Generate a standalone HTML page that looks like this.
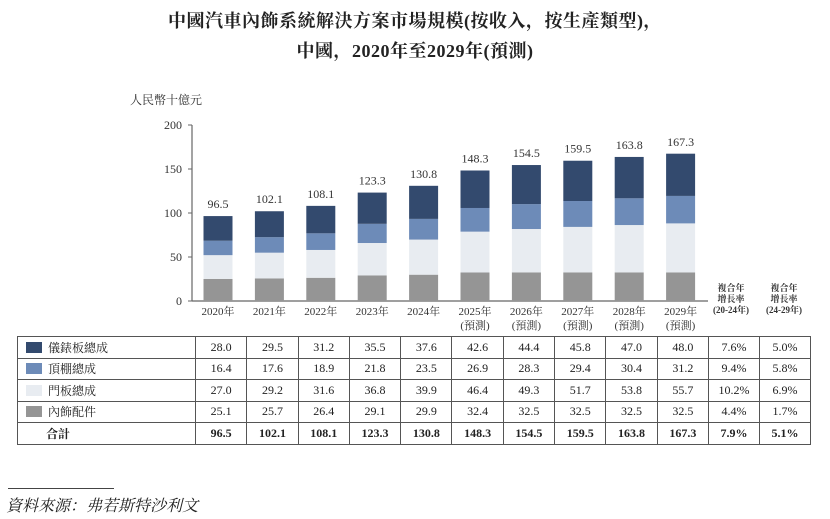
<!DOCTYPE html>
<html><head><meta charset="utf-8">
<style>
body{margin:0;width:830px;height:519px;background:#fff;overflow:hidden;font-family:"Liberation Serif","Noto Serif CJK SC",serif;color:#222}
.t{position:absolute;left:0;width:830px;text-align:center;font-weight:bold;font-size:18px;letter-spacing:0.5px}
table{position:absolute;left:17px;top:336px;border-collapse:collapse;font-size:12px;table-layout:fixed;width:793px}
td{border:1.5px solid #555;height:20.5px;text-align:center;padding:0;overflow:hidden;white-space:nowrap}
td.l{text-align:left;padding-left:8px}
.sw{display:inline-block;width:16px;height:11px;vertical-align:-1px;margin-right:6px}
</style></head><body>
<div class="t" style="top:7px">中國汽車內飾系統解決方案市場規模(按收入，按生產類型)，</div>
<div class="t" style="top:37px">中國，2020年至2029年(預測)</div>
<svg id="chart" width="830" height="336" style="position:absolute;left:0;top:0"></svg>
<table id="tbl">
<colgroup><col style="width:178px"><col span="10" style="width:51.3px"><col span="2" style="width:51px"></colgroup>
</table>
<div style="position:absolute;left:8px;top:488px;width:106px;border-top:1px solid #444"></div>
<div style="position:absolute;left:6px;top:493px;font-size:16px;font-style:italic">資料來源：弗若斯特沙利文</div>
<script>
const years=["2020年","2021年","2022年","2023年","2024年","2025年","2026年","2027年","2028年","2029年"];
const forecast=[false,false,false,false,false,true,true,true,true,true];
const trim=[25.1,25.7,26.4,29.1,29.9,32.4,32.5,32.5,32.5,32.5];
const door=[27.0,29.2,31.6,36.8,39.9,46.4,49.3,51.7,53.8,55.7];
const headliner=[16.4,17.6,18.9,21.8,23.5,26.9,28.3,29.4,30.4,31.2];
const cockpit=[28.0,29.5,31.2,35.5,37.6,42.6,44.4,45.8,47.0,48.0];
const totals=[96.5,102.1,108.1,123.3,130.8,148.3,154.5,159.5,163.8,167.3];
const cagr1=["7.6%","9.4%","10.2%","4.4%","7.9%"];
const cagr2=["5.0%","5.8%","6.9%","1.7%","5.1%"];
const yTicks=[0,50,100,150,200];
const NS="http://www.w3.org/2000/svg";
const svg=document.getElementById('chart');
const y0=301,yTop=125,yMax=200;
const Y=v=>y0-(v/yMax)*(y0-yTop);
const X=i=>218+i*51.4;
const bw=29;
function mk(t,a){const e=document.createElementNS(NS,t);for(const k in a)e.setAttribute(k,a[k]);svg.appendChild(e);return e;}
function txt(x,y,s,size,anchor,name){const e=mk('text',{x:x,y:y,'font-size':size,'text-anchor':anchor||'middle',fill:'#333'});e.textContent=s;

return e;}
txt(130,104,"人民幣十億元",12,'start','y-axis-unit');
const ax=mk('line',{x1:192,y1:Y(0),x2:192,y2:Y(200),stroke:'#666','stroke-width':1.2});


const xa=mk('line',{x1:192,y1:y0,x2:708,y2:y0,stroke:'#666','stroke-width':1.2});


yTicks.forEach(v=>{const l=mk('line',{x1:188,x2:192,y1:Y(v),y2:Y(v),stroke:'#666'});


txt(182,Y(v)+4,String(v),12,'end','y-tick-label');});
const series=[[trim,'#959595','bar-trim'],[door,'#e8ecf1','bar-door'],[headliner,'#6d8bb8','bar-headliner'],[cockpit,'#334a6e','bar-cockpit']];
years.forEach((yr,i)=>{let acc=0;
series.forEach(([arr,col,nm])=>{const r=mk('rect',{x:X(i)-bw/2,y:Y(acc+arr[i]),width:bw,height:Y(acc)-Y(acc+arr[i]),fill:col});

acc+=arr[i];});
txt(X(i),Y(totals[i])-8,totals[i].toFixed(1),12,'middle','total-label');
txt(X(i),315,yr,11,'middle','x-tick-label');
if(forecast[i])txt(X(i),329,"(預測)",11,'middle','forecast-label');
});
[[731,"複合年","增長率","(20-24年)"],[784,"複合年","增長率","(24-29年)"]].forEach(([x,a,b,c])=>{
[a,b,c].forEach((s,k)=>{const t=txt(x,291+k*11,s,9,'middle','cagr-header');t.setAttribute('font-weight','bold');});});
const tbl=document.getElementById('tbl');
const rows=[["儀錶板總成",'#334a6e',cockpit,0],["頂棚總成",'#6d8bb8',headliner,1],["門板總成",'#e8ecf1',door,2],["內飾配件",'#959595',trim,3],["合計",null,totals,4]];
rows.forEach(([lab,col,arr,k])=>{const tr=document.createElement('tr');


const bold=col===null;
const b=bold?' style="font-weight:bold"':'';
let h='<td class="l"'+(bold?' style="font-weight:bold;padding-left:28px"':'')+'>'+(col?'<span class="sw" style="background:'+col+'"></span>':'')+lab+'</td>';
arr.forEach(v=>{h+='<td'+b+'>'+v.toFixed(1)+'</td>';});
h+='<td'+b+'>'+cagr1[k]+'</td><td'+b+'>'+cagr2[k]+'</td>';
tr.innerHTML=h;tbl.appendChild(tr);});
</script>
</body></html>
